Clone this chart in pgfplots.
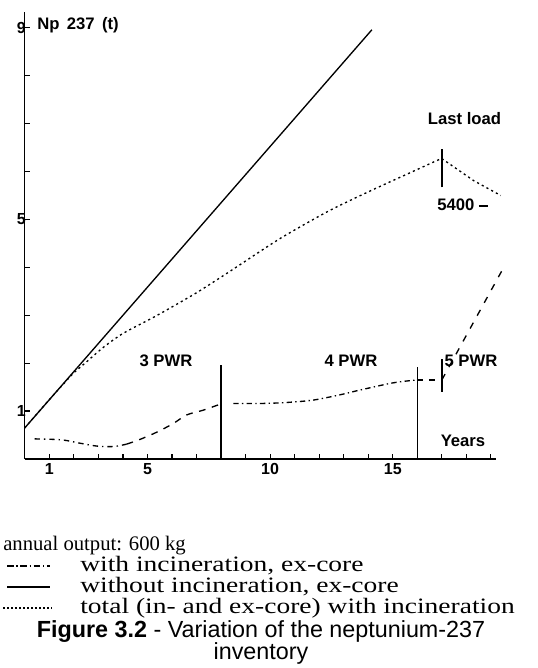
\documentclass[border=0pt]{standalone}
\usepackage{pgfplots}
\pgfplotsset{compat=1.18}
\usepackage{fontspec}
\setmainfont{Liberation Serif}
\setsansfont{Liberation Sans}
\newfontfamily\keyfont[FakeStretch=1.25]{Liberation Serif}
\newcommand\lab{\sffamily\bfseries\fontsize{12.5}{14}\selectfont}
\begin{document}
\begin{tikzpicture}
\begin{scope}[x=0.75pt,y=-0.75pt]
\useasboundingbox (0,0) rectangle (538,668);
\end{scope}
\begin{axis}[
  at={(18.6pt,-344.25pt)}, anchor=south west,
  scale only axis, width=353.25pt, height=335.25pt,
  xmin=0, xmax=19.2, ymin=0, ymax=9.33,
  axis x line=bottom, axis y line=left,
  axis line style={-},
  x axis line style={line width=1.5pt},
  y axis line style={line width=1pt},
  xtick={1,...,19}, xticklabels={1,,,,5,,,,,10,,,,,15,,,,},
  ytick={1,...,9}, yticklabels={1,,,,5,,,,9},
  tick align=inside, major tick length=4pt,
  tick style={black, line width=0.9pt},
  ticklabel style={font=\sffamily\bfseries\fontsize{12}{14}\selectfont},
  /pgf/number format/assume math mode=true,
  yticklabel style={inner sep=0pt, xshift=1pt},
  xticklabel style={inner sep=0pt, yshift=-3pt},
  clip=false,
]
% without incineration, ex-core
\addplot[line width=1pt] coordinates {(0,0.65) (14.15,8.96)};
% total (in- and ex-core) with incineration
\addplot[line width=1pt, dash pattern=on 1.6pt off 2.4pt, smooth, tension=0.4] coordinates {
(0,0.65) (1,1.24) (1.6,1.58) (2.0,1.80) (2.5,2.02) (3.2,2.33) (4.0,2.62) (5.4,3.0) (7.0,3.47) (8.4,3.93) (10.4,4.60) (12.4,5.18) (14.1,5.60) (15.6,5.95) (16.8,6.23) (17,6.27)};
\addplot[line width=1pt, dash pattern=on 1.6pt off 2.4pt] coordinates {(17,6.27) (18.3,5.81) (19.4,5.5)};
% with incineration, ex-core
\addplot[line width=1pt, dash pattern=on 4pt off 3pt on 1pt off 3pt, smooth] coordinates {
(0.4,0.42) (1.5,0.40) (2.25,0.33) (2.93,0.27) (3.61,0.26) (4.15,0.31)};
\addplot[line width=1pt, dash pattern=on 5pt off 5pt, smooth] coordinates {
(4.15,0.31) (4.7,0.41) (5.38,0.56) (6.05,0.74) (6.6,0.92) (7.28,1.02) (7.89,1.13) (8.0,1.14)};
\addplot[line width=1pt, dash pattern=on 4pt off 2.5pt on 1pt off 2.5pt, smooth] coordinates {
(8.5,1.16) (9.72,1.16) (10.68,1.18) (11.76,1.23) (12.85,1.34) (13.67,1.44) (15.02,1.59) (15.98,1.65)};
\addplot[line width=1pt, dash pattern=on 5pt off 4pt] coordinates {(15.98,1.65) (17,1.65)};
\addplot[line width=1pt, dash pattern=on 5pt off 6pt] coordinates {(17,1.65) (19.48,3.96)};
% markers of reactor loading
\addplot[line width=1.1pt] coordinates {(8,0) (8,1.96)};
\addplot[line width=1.1pt] coordinates {(16,0) (16,1.92)};
\addplot[line width=1.1pt] coordinates {(17,1.40) (17,2.08)};
\addplot[line width=1.1pt] coordinates {(17,5.67) (17,6.48)};
\end{axis}
\begin{scope}[x=0.75pt,y=-0.75pt]
\node[font=\lab, anchor=west, inner sep=0pt] at (37,25) {Np\, 237\, (t)};
\node[font=\lab] at (166,361) {3 PWR};
\node[font=\lab] at (351,361) {4 PWR};
\node[font=\lab] at (471,361) {5 PWR};
\node[font=\lab] at (463,441) {Years};
\node[font=\lab] at (464.5,119) {Last load};
\node[font=\lab, anchor=west, inner sep=0pt] at (437,205) {5400 \rule[0.25em]{0.55em}{0.12em}};
% caption block
\node[anchor=base west, inner sep=0pt, font=\fontsize{15.5}{16}\selectfont] at (3,550) {annual output: 600 kg};
\begin{scope}[font=\keyfont\fontsize{16.5}{17}\selectfont]
\draw[line width=1pt, dash pattern=on 5pt off 2pt on 1pt off 2pt] (7,566) -- (50,566);
\node[anchor=base west, inner sep=0pt] at (80,571) {with incineration, ex-core};
\draw[line width=1.2pt] (7,587) -- (50,587);
\node[anchor=base west, inner sep=0pt] at (80,592) {without incineration, ex-core};
\draw[line width=1pt, dash pattern=on 1.6pt off 1.4pt] (3,608) -- (52,608);
\node[anchor=base west, inner sep=0pt] at (80,613) {total (in- and ex-core) with incineration};
\end{scope}
\begin{scope}[font=\sffamily\fontsize{17.5}{18}\selectfont]
\node[anchor=base, inner sep=0pt] at (261,637) {\textbf{Figure 3.2} - Variation of the neptunium-237};
\node[anchor=base, inner sep=0pt] at (261,659) {inventory};
\end{scope}
\end{scope}
\end{tikzpicture}
\end{document}
